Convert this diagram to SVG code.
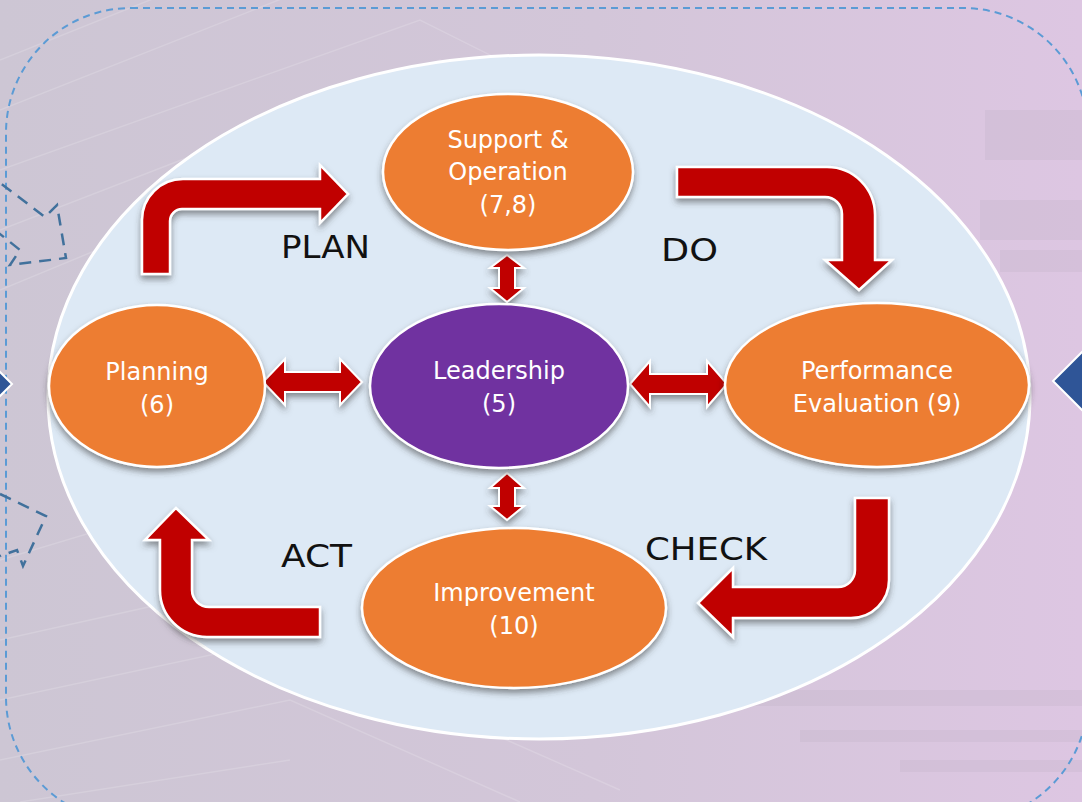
<svg xmlns="http://www.w3.org/2000/svg" width="1082" height="802" viewBox="0 0 1082 802">
  <defs>
    <linearGradient id="bg" x1="0" y1="0" x2="1" y2="0">
      <stop offset="0" stop-color="#cdc6d4"/>
      <stop offset="0.55" stop-color="#d3c6d9"/>
      <stop offset="1" stop-color="#ddc6e2"/>
    </linearGradient>
    <filter id="shadow" x="-20%" y="-20%" width="140%" height="150%">
      <feDropShadow dx="0" dy="4" stdDeviation="3" flood-color="#3a3a3a" flood-opacity="0.55"/>
    </filter>
    <style>
      .node { stroke: #ffffff; stroke-width: 2.5; filter: url(#shadow); }
      .orange { fill: #ed7d31; }
      .purple { fill: #7030a0; }
      .ntext { font-family: "DejaVu Sans", "Liberation Sans", sans-serif; font-size: 24px; fill: #ffffff; text-anchor: middle; }
      .label { font-family: "DejaVu Sans", "Liberation Sans", sans-serif; font-size: 32px; fill: #111111; }
      .bigarrow { fill: #c00000; stroke: #ffffff; stroke-width: 2.5; stroke-linejoin: miter; filter: url(#shadow); }
      .dblarrow { fill: #c00000; stroke: #ffffff; stroke-width: 2; filter: url(#shadow); }
      .dashbox { fill: none; stroke: #5b9bd5; stroke-width: 2; stroke-dasharray: 7 5; }
      .dashshape { fill: none; stroke: #41719c; stroke-width: 2.5; stroke-dasharray: 12 8; }
      .diamond { fill: #2f5597; stroke: #ffffff; stroke-width: 2; }
      .bgline { fill: none; stroke: #ffffff; stroke-opacity: 0.16; stroke-width: 1.5; }
      .bgblock { fill: #b0a2b5; fill-opacity: 0.16; }
    </style>
  </defs>

  <!-- backdrop -->
  <rect x="0" y="0" width="1082" height="802" fill="url(#bg)"/>
  <g id="backdrop-lines">
    <polyline class="bgline" points="0,60 300,-60"/>
    <polyline class="bgline" points="0,110 380,-40"/>
    <polyline class="bgline" points="0,170 420,20 620,120"/>
    <polyline class="bgline" points="0,230 440,60 660,160"/>
    <polyline class="bgline" points="0,290 460,100 700,200"/>
    <polyline class="bgline" points="0,560 200,500"/>
    <polyline class="bgline" points="0,640 270,580 520,700"/>
    <polyline class="bgline" points="0,700 280,640 620,790"/>
    <polyline class="bgline" points="0,760 290,700 520,802"/>
    <polyline class="bgline" points="20,802 290,760"/>
    <rect class="bgblock" x="985" y="110" width="97" height="50"/>
    <rect class="bgblock" x="980" y="200" width="102" height="40"/>
    <rect class="bgblock" x="1000" y="250" width="82" height="22"/>
    <rect class="bgblock" x="700" y="690" width="382" height="16"/>
    <rect class="bgblock" x="800" y="730" width="282" height="12"/>
    <rect class="bgblock" x="900" y="760" width="182" height="12"/>
  </g>

  <!-- dashed frame -->
  <rect class="dashbox" x="6" y="8" width="1082" height="814" rx="125" ry="125"/>

  <!-- partial shapes at the edges -->
  <g id="edge-shapes">
    <polyline class="dashshape" points="-30,160 45,217 57,205 66,258 10,265 20,250 -10,226"/>
    <polyline class="dashshape" points="0,494 46,516 23,566 17,550 0,556"/>
    <polygon class="diamond" points="-35,337 12,384 -35,431 -82,384"/>
    <polygon class="diamond" points="1100,334 1147,381 1100,428 1053,381"/>
  </g>

  <!-- main ellipse -->
  <ellipse cx="539" cy="397" rx="491" ry="342" fill="#dde9f5" stroke="#ffffff" stroke-width="3"/>

  <!-- connectors -->
  <g id="connectors">
    <!-- PLAN -->
    <path class="bigarrow" d="M142,274 L142,220 A41,41 0 0 1 183,179 L320,179 L320,165 L348,194 L320,223 L320,209 L182,209 A12,12 0 0 0 170,221 L170,274 Z"/>
    <!-- DO -->
    <path class="bigarrow" d="M677,167 L827,167 A48,48 0 0 1 875,215 L875,260 L892,260 L859,290 L825,260 L842,260 L842,214 A17,17 0 0 0 825,197 L677,197 Z"/>
    <!-- CHECK -->
    <path class="bigarrow" d="M855,498 L889,498 L889,580 A38,38 0 0 1 851,618 L733,618 L733,637 L698,603 L733,568 L733,587 L838,587 A17,17 0 0 0 855,570 Z"/>
    <!-- ACT -->
    <path class="bigarrow" d="M320,607 L320,637 L207,637 A47,47 0 0 1 160,590 L160,540 L145,540 L176,508 L209,540 L192,540 L192,590 A17,17 0 0 0 209,607 Z"/>

    <!-- Planning <-> Leadership -->
    <path class="dblarrow" d="M263,382 L285,359 L285,372 L340,372 L340,359 L362,382 L340,405 L340,392 L285,392 L285,405 Z"/>
    <!-- Leadership <-> Performance Evaluation -->
    <path class="dblarrow" d="M630,384 L650,361 L650,374 L707,374 L707,361 L727,384 L707,407 L707,394 L650,394 L650,407 Z"/>
    <!-- Support & Operation <-> Leadership -->
    <path class="dblarrow" d="M507,255 L524,268 L515,268 L515,288 L524,288 L507,302 L490,288 L499,288 L499,268 L490,268 Z"/>
    <!-- Leadership <-> Improvement -->
    <path class="dblarrow" d="M507,473 L524,488 L515,488 L515,506 L524,506 L507,520 L490,506 L499,506 L499,488 L490,488 Z"/>
  </g>

  <!-- nodes -->
  <g id="node-support">
    <ellipse class="node orange" cx="508" cy="172" rx="125" ry="78"/>
    <text class="ntext" x="508" y="148">Support &amp;</text>
    <text class="ntext" x="508" y="180">Operation</text>
    <text class="ntext" x="508" y="213">(7,8)</text>
  </g>
  <g id="node-planning">
    <ellipse class="node orange" cx="157" cy="386" rx="108" ry="81"/>
    <text class="ntext" x="157" y="380">Planning</text>
    <text class="ntext" x="157" y="413">(6)</text>
  </g>
  <g id="node-leadership">
    <ellipse class="node purple" cx="499" cy="386" rx="129" ry="82"/>
    <text class="ntext" x="499" y="379">Leadership</text>
    <text class="ntext" x="499" y="412">(5)</text>
  </g>
  <g id="node-performance">
    <ellipse class="node orange" cx="877" cy="385" rx="152" ry="82"/>
    <text class="ntext" x="877" y="379">Performance</text>
    <text class="ntext" x="877" y="412">Evaluation (9)</text>
  </g>
  <g id="node-improvement">
    <ellipse class="node orange" cx="514" cy="608" rx="152" ry="80"/>
    <text class="ntext" x="514" y="601">Improvement</text>
    <text class="ntext" x="514" y="634">(10)</text>
  </g>

  <!-- cycle labels -->
  <g id="labels">
    <text class="label" x="281" y="258" textLength="89" lengthAdjust="spacingAndGlyphs">PLAN</text>
    <text class="label" x="661" y="261" textLength="57" lengthAdjust="spacingAndGlyphs">DO</text>
    <text class="label" x="645" y="560" textLength="122" lengthAdjust="spacingAndGlyphs">CHECK</text>
    <text class="label" x="281" y="567" textLength="71" lengthAdjust="spacingAndGlyphs">ACT</text>
  </g>
</svg>
